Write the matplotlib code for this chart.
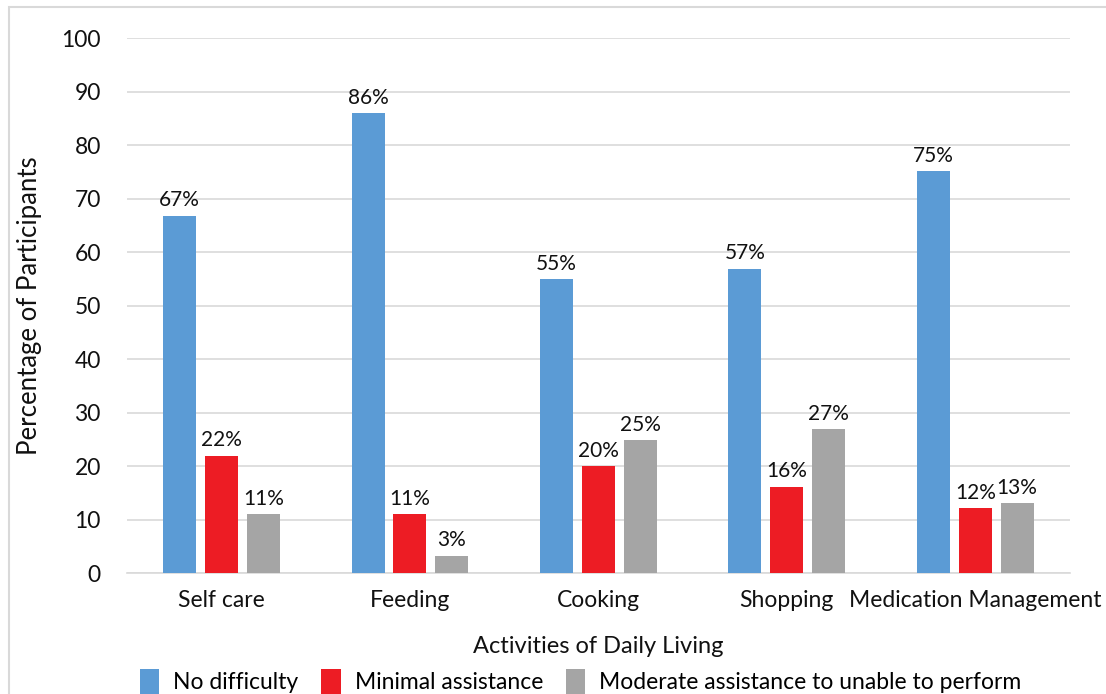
import matplotlib.pyplot as plt
import numpy as np

plt.rcParams['font.family'] = ['Lato', 'DejaVu Sans']

activities = ['Self care', 'Feeding', 'Cooking', 'Shopping', 'Medication Management']
no_difficulty = [66.8, 86.0, 55.0, 56.9, 75.2]
minimal = [22.0, 11.1, 20.0, 16.2, 12.2]
moderate = [11.1, 3.3, 24.9, 26.9, 13.1]
labels_nd = ['67%', '86%', '55%', '57%', '75%']
labels_min = ['22%', '11%', '20%', '16%', '12%']
labels_mod = ['11%', '3%', '25%', '27%', '13%']

series = [
    ('No difficulty', no_difficulty, labels_nd, '#5b9bd5'),
    ('Minimal assistance', minimal, labels_min, '#ed1c24'),
    ('Moderate assistance to unable to perform', moderate, labels_mod, '#a5a5a5'),
]

fig = plt.figure(figsize=(11.06, 6.94), dpi=100)
ax = fig.add_axes([0.115, 0.174, 0.852, 0.771])

x = np.arange(len(activities))
w = 0.175
step = 0.222
for i, (name, vals, labs, col) in enumerate(series):
    bars = ax.bar(x + (i - 1) * step, vals, width=w, color=col, label=name, zorder=3)
    for b, lab in zip(bars, labs):
        ax.text(b.get_x() + b.get_width() / 2, b.get_height() + 1.0, lab,
                ha='center', va='bottom', fontsize=15, color='#111111')

ax.set_xlim(-0.5, len(activities) - 0.5)
ax.set_ylim(0, 100)
ax.set_yticks(range(0, 101, 10))
ax.set_xticks(x)
ax.set_xticklabels(activities)
ax.tick_params(axis='both', length=0, labelsize=16.5, colors='#111111')
ax.tick_params(axis='x', pad=12)
ax.tick_params(axis='y', pad=19)
ax.grid(axis='y', color='#d9d9d9', linewidth=1.2, zorder=0)
for s in ['top', 'right', 'left']:
    ax.spines[s].set_visible(False)
ax.spines['bottom'].set_color('#d9d9d9')
ax.spines['bottom'].set_linewidth(1.2)

ax.set_ylabel('Percentage of Participants', fontsize=18.5, color='#111111', labelpad=14)
fig.text(0.541, 0.068, 'Activities of Daily Living', ha='center', va='center',
         fontsize=17, color='#111111')

handles, names = ax.get_legend_handles_labels()
fig.legend(handles, names, loc='center', bbox_to_anchor=(0.525, 0.018), ncol=3,
           frameon=False, fontsize=16.5, handlelength=0.85, handleheight=1.3,
           handletextpad=0.6, columnspacing=1.0)

fig.patches.append(plt.Rectangle((0.008, -0.01), 1.0, 1.0, transform=fig.transFigure,
                                 fill=False, edgecolor='#d9d9d9', linewidth=1.5))

fig.savefig('out.png', dpi=100)
